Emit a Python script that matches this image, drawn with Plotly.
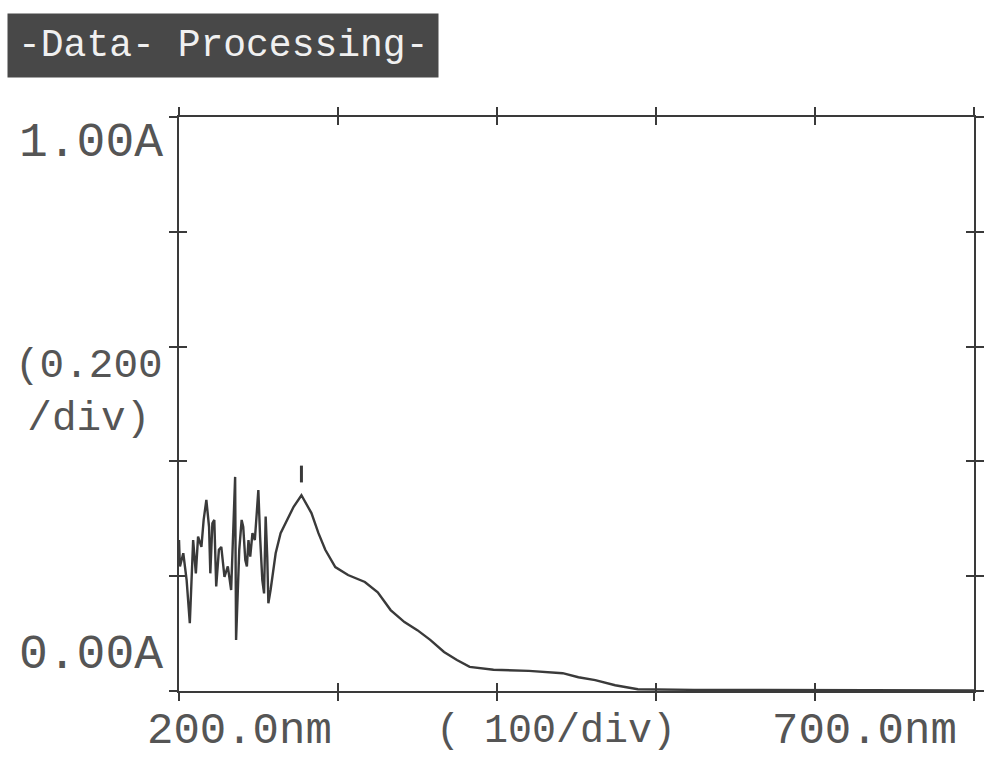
import plotly.graph_objects as go

# ---- data ----
wavelength_nm = [200.0, 200.6, 202.7, 204.8, 206.8, 208.9, 210.6, 212.0, 214.1, 215.5,
                 217.2, 218.9, 219.7, 221.0, 222.2, 223.4, 225.1, 226.6, 228.6, 230.7,
                 232.8, 234.4, 235.3, 235.9, 236.9, 237.9, 239.4, 240.4, 241.7, 242.7,
                 243.7, 244.8, 246.2, 247.7, 248.9, 249.9, 251.0, 252.4, 253.5, 254.5,
                 255.5, 256.2, 257.6, 259.1, 260.8, 263.9, 268.0, 272.1, 277.0,
                 283.3, 287.7, 292.0, 298.3, 306.3, 316.9, 325.0, 333.1, 341.8, 349.9,
                 358.0, 366.7, 374.8, 382.8, 397.8, 420.1, 441.3, 451.2, 461.8, 474.3,
                 488.6, 524.0, 600.0, 700.0]
absorbance = [0.263, 0.217, 0.240, 0.193, 0.118, 0.263, 0.205, 0.269, 0.251, 0.298,
              0.333, 0.286, 0.205, 0.292, 0.298, 0.182, 0.246, 0.251, 0.199, 0.217,
              0.176, 0.321, 0.373, 0.089, 0.164, 0.246, 0.298, 0.286, 0.228, 0.217,
              0.263, 0.234, 0.275, 0.263, 0.310, 0.350, 0.269, 0.193, 0.170, 0.304,
              0.234, 0.153, 0.176, 0.205, 0.240, 0.275, 0.298, 0.321, 0.341,
              0.310, 0.275, 0.246, 0.216, 0.202, 0.190, 0.172, 0.141, 0.120, 0.106,
              0.089, 0.068, 0.054, 0.042, 0.037, 0.035, 0.031, 0.024, 0.019, 0.010,
              0.003, 0.002, 0.002, 0.001]

peak_marker_nm = [277.0]
peak_marker_abs = [0.378]

x_range = [200, 700]
y_range = [0, 1.0]
x_tick_step = 100
y_tick_step = 0.2

title_text = "-Data- Processing-"
y_labels = ["1.00A", "(0.200<br>/div)", "0.00A"]
y_label_pos = [0.955, 0.52, 0.062]
x_labels = ["200.0nm", "( 100/div)", "700.0nm"]
x_label_pos = [238, 437, 631]

INK = "#3a3a3a"
TXT = "#555555"
FONT = "Liberation Mono, DejaVu Sans Mono, monospace"

fig = go.Figure()
fig.add_trace(go.Scatter(x=wavelength_nm, y=absorbance, mode="lines",
                         line=dict(color=INK, width=2.4), showlegend=False,
                         hoverinfo="skip"))
fig.add_trace(go.Scatter(x=peak_marker_nm, y=peak_marker_abs, mode="markers",
                         marker=dict(symbol="line-ns", size=12,
                                     line=dict(color=INK, width=3)),
                         showlegend=False, hoverinfo="skip"))
# invisible trace on overlay axes so they render
fig.add_trace(go.Scatter(x=[x_range[0]], y=[y_range[0]], xaxis="x2", yaxis="y2",
                         mode="markers", marker=dict(opacity=0),
                         showlegend=False, hoverinfo="skip"))

axis_common = dict(showgrid=False, zeroline=False, showline=True, linecolor=INK,
                   linewidth=2, mirror="ticks", tickcolor=INK, tickwidth=2,
                   ticklen=8, showticklabels=False)

fig.update_layout(
    width=996, height=775,
    margin=dict(l=179, r=13, t=117, b=84),
    paper_bgcolor="white", plot_bgcolor="white",
    xaxis=dict(range=x_range, dtick=x_tick_step, tick0=x_range[0],
               ticks="outside", **axis_common),
    yaxis=dict(range=y_range, dtick=y_tick_step, tick0=0,
               ticks="outside", **axis_common),
    xaxis2=dict(range=x_range, dtick=x_tick_step, tick0=x_range[0],
                ticks="inside", overlaying="x", matches="x", **axis_common),
    yaxis2=dict(range=y_range, dtick=y_tick_step, tick0=0,
                ticks="inside", overlaying="y", matches="y", **axis_common),
)

y_sizes = [48, 41, 48]
x_sizes = [44, 40, 44]
annotations = []
for txt, pos, sz in zip(y_labels, y_label_pos, y_sizes):
    annotations.append(dict(text=txt, xref="paper", yref="y", x=0, y=pos,
                            xanchor="right", yanchor="middle", xshift=-14,
                            showarrow=False, align="center",
                            font=dict(family=FONT, size=sz, color=TXT)))
for txt, pos, sz in zip(x_labels, x_label_pos, x_sizes):
    annotations.append(dict(text=txt, xref="x", yref="paper", x=pos, y=0,
                            xanchor="center", yanchor="middle", yshift=-40,
                            showarrow=False,
                            font=dict(family=FONT, size=sz, color=TXT)))
annotations.append(dict(text=title_text, xref="paper", yref="paper",
                        x=-0.216, y=1.125, xanchor="left", yanchor="middle",
                        showarrow=False, bgcolor="#484848", borderpad=10,
                        font=dict(family=FONT, size=38, color="#f0f0f0")))
fig.update_layout(annotations=annotations)

fig.write_html("out.html")
